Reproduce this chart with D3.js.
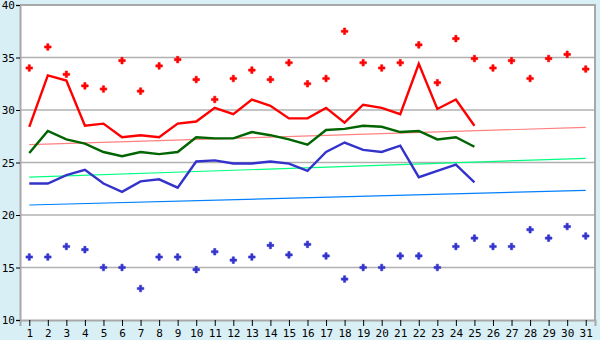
<!DOCTYPE html>
<html>
<head>
<meta charset="utf-8">
<script src="https://cdn.jsdelivr.net/npm/d3@7/dist/d3.min.js"></script>
<style>
  body { margin: 0; background: #d9eff6; }
  svg text { font-family: "DejaVu Sans Mono", monospace; font-size: 11px; fill: #000; }
</style>
</head>
<body>
<svg id="chart" width="600" height="340"></svg>
<script>
// days of the month
var days = d3.range(1, 32);
var yTicks = [10, 15, 20, 25, 30, 35, 40];

// daily lines (days 1-25)
var redLine   = [28.4, 33.3, 32.8, 28.5, 28.7, 27.4, 27.6, 27.4, 28.7, 28.9, 30.2, 29.6, 31.0, 30.4, 29.2, 29.2, 30.2, 28.8, 30.5, 30.2, 29.6, 34.4, 30.1, 31.0, 28.5];
var greenLine = [25.9, 28.0, 27.2, 26.8, 26.0, 25.6, 26.0, 25.8, 26.0, 27.4, 27.3, 27.3, 27.9, 27.6, 27.2, 26.7, 28.1, 28.2, 28.5, 28.4, 27.9, 28.0, 27.2, 27.4, 26.5];
var blueLine  = [23.0, 23.0, 23.8, 24.3, 23.0, 22.2, 23.2, 23.4, 22.6, 25.1, 25.2, 24.9, 24.9, 25.1, 24.9, 24.2, 26.0, 26.9, 26.2, 26.0, 26.6, 23.6, 24.2, 24.8, 23.1];

// record points (days 1-31)
var redPoints  = [34.0, 36.0, 33.4, 32.3, 32.0, 34.7, 31.8, 34.2, 34.8, 32.9, 31.0, 33.0, 33.8, 32.9, 34.5, 32.5, 33.0, 37.5, 34.5, 34.0, 34.5, 36.2, 32.6, 36.8, 34.9, 34.0, 34.7, 33.0, 34.9, 35.3, 33.9];
var bluePoints = [16.0, 16.0, 17.0, 16.7, 15.0, 15.0, 13.0, 16.0, 16.0, 14.8, 16.5, 15.7, 16.0, 17.1, 16.2, 17.2, 16.1, 13.9, 15.0, 15.0, 16.1, 16.1, 15.0, 17.0, 17.8, 17.0, 17.0, 18.6, 17.8, 18.9, 18.0];

// trend lines: value at day 1 and day 31
var trendRed   = [26.7, 28.35];
var trendGreen = [23.6, 25.4];
var trendBlue  = [20.95, 22.35];

var plot = { left: 20, right: 595, top: 5, bottom: 320 };
var svg = d3.select('#chart');

var x = d3.scalePoint().domain(days).range([plot.left, plot.right]).padding(0.5);
var y = d3.scaleLinear().domain([10, 40]).range([plot.bottom, plot.top]);

svg.append('rect')
  .attr('x', plot.left).attr('y', plot.top)
  .attr('width', plot.right - plot.left).attr('height', plot.bottom - plot.top)
  .attr('fill', '#fff');

// grid
svg.append('g').selectAll('line')
  .data(yTicks.slice(1, -1))
  .enter().append('line')
    .attr('x1', plot.left).attr('x2', plot.right)
    .attr('y1', function(d) { return y(d); })
    .attr('y2', function(d) { return y(d); })
    .attr('stroke', '#b0b0b0').attr('stroke-width', 1.5);

// frame
svg.append('path')
  .attr('d', 'M' + plot.left + ',' + plot.top + 'H' + plot.right + 'V' + plot.bottom)
  .attr('fill', 'none').attr('stroke', '#a8a8a8').attr('stroke-width', 2);

var xAxis = svg.append('g')
  .attr('transform', 'translate(0,' + plot.bottom + ')')
  .call(d3.axisBottom(x).tickSize(6).tickPadding(3));
xAxis.select('.domain').attr('stroke', '#a8a8a8').attr('stroke-width', 2);

var yAxis = svg.append('g')
  .attr('transform', 'translate(' + plot.left + ',0)')
  .call(d3.axisLeft(y).tickValues(yTicks).tickSize(4).tickPadding(1));
yAxis.select('.domain').attr('stroke', '#a8a8a8').attr('stroke-width', 2);
svg.selectAll('.tick text').attr('font-family', null).attr('font-size', null);

// trend lines
var trends = [[trendRed, '#ff8080'], [trendGreen, '#00ff80'], [trendBlue, '#0080ff']];
trends.forEach(function(t) {
  svg.append('line')
    .attr('x1', x(1)).attr('x2', x(31))
    .attr('y1', y(t[0][0])).attr('y2', y(t[0][1]))
    .attr('stroke', t[1]).attr('stroke-width', 1.2);
});

// daily lines
var line = d3.line()
  .x(function(d, i) { return x(days[i]); })
  .y(function(d) { return y(d); });

[[redLine, '#ff0000'], [greenLine, '#006400'], [blueLine, '#3333cc']].forEach(function(s) {
  svg.append('path')
    .datum(s[0])
    .attr('d', line)
    .attr('fill', 'none')
    .attr('stroke', s[1])
    .attr('stroke-width', 2.4);
});

// record points
var sym = d3.symbol().type(d3.symbolCross).size(24);
[[redPoints, '#ff0000'], [bluePoints, '#3333cc']].forEach(function(s) {
  svg.append('g').selectAll('path')
    .data(s[0])
    .enter().append('path')
      .attr('d', sym)
      .attr('transform', function(d, i) { return 'translate(' + x(days[i]) + ',' + y(d) + ')'; })
      .attr('fill', s[1])
      .attr('stroke', s[1])
      .attr('stroke-width', 0.6)
      .attr('stroke-linejoin', 'round');
});
</script>
</body>
</html>
